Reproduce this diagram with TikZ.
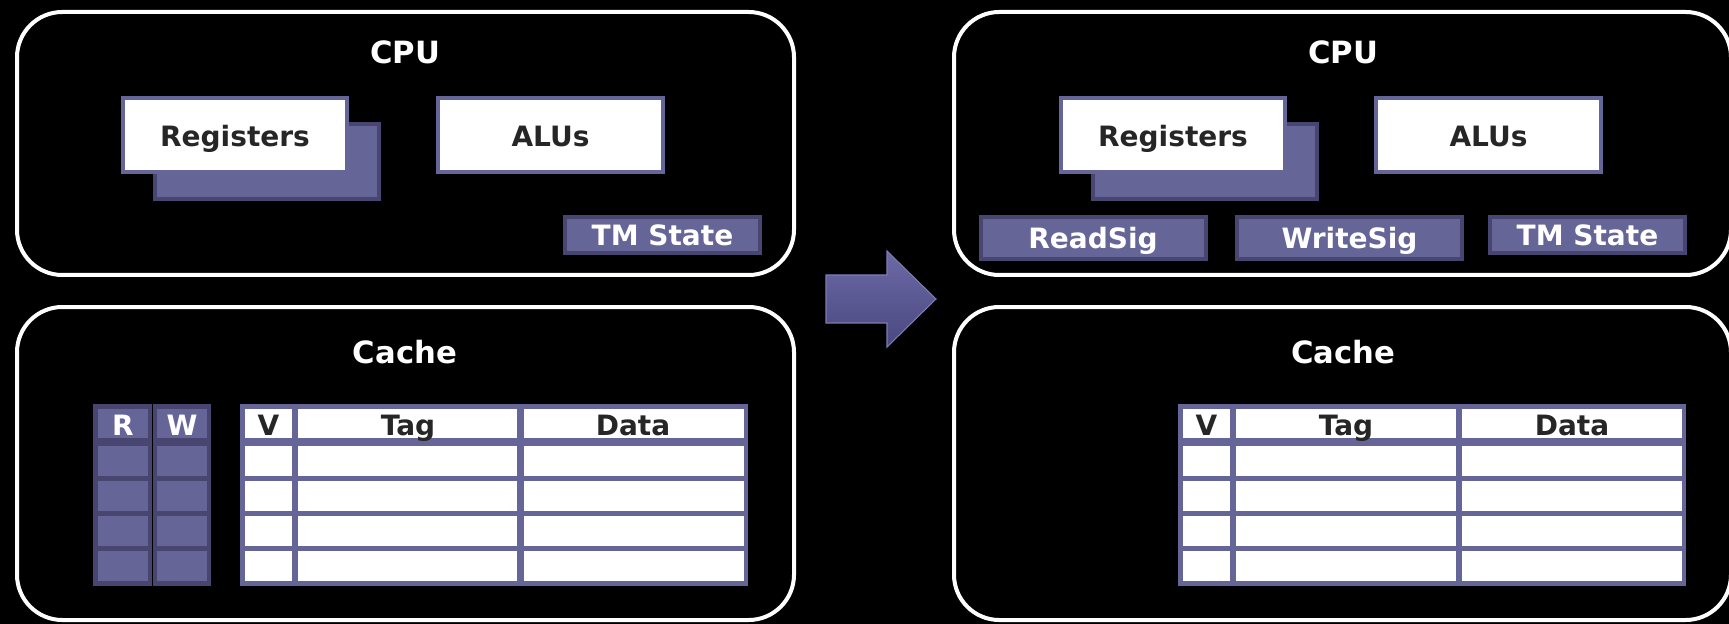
\documentclass[tikz,border=0pt]{standalone}
\usepackage{fontspec}
\setmainfont{DejaVu Sans}
\definecolor{boxpurple}{RGB}{102,101,152}
\definecolor{darkpurple}{RGB}{72,70,112}
\definecolor{arrowtop}{RGB}{108,105,165}
\definecolor{arrowbot}{RGB}{74,72,128}
\definecolor{arrowedge}{RGB}{125,122,180}
\definecolor{darktext}{RGB}{38,38,38}
\tikzset{
  px/.style 2 args={minimum width=#1*0.75pt, minimum height=#2*0.75pt, inner sep=0pt},
  outerbox/.style={draw=white, line width=3pt, rounded corners=34pt, rectangle},
  whitebox/.style={draw=boxpurple, fill=white, line width=3pt, rectangle},
  purplebox/.style={draw=darkpurple, fill=boxpurple, line width=3pt, rectangle},
  ttl/.style={font=\bfseries\fontsize{23}{27}\selectfont, text=white, anchor=base, inner sep=0pt},
  dlbl/.style={font=\bfseries\fontsize{21}{25}\selectfont, text=darktext, anchor=base, inner sep=0pt},
  wlbl/.style={font=\bfseries\fontsize{21}{25}\selectfont, text=white, anchor=base, inner sep=0pt},
}
\begin{document}
\begin{tikzpicture}[x=0.75pt,y=-0.75pt]
\useasboundingbox (0,0) rectangle (1729,624);
\fill[black] (0,0) rectangle (1729,624);
\clip (0,0) rectangle (1729,624);

% ---------- outer boxes ----------
\node[outerbox, px={777}{263}] (cpuL) at (405.5,143.5) {};
\node[outerbox, px={777}{313}] (cacheL) at (405.5,463.5) {};
\node[outerbox, px={777}{263}] (cpuR) at (1342.5,143.5) {};
\node[outerbox, px={777}{313}] (cacheR) at (1342.5,463.5) {};

\node[ttl] (cpuLt) at (405,63.5) {CPU};
\node[ttl] (cacheLt) at (405,363.5) {Cache};
\node[ttl] (cpuRt) at (1343,63.5) {CPU};
\node[ttl] (cacheRt) at (1343,363.5) {Cache};

% ---------- left CPU ----------
\node[purplebox, px={224}{75}] (regLb) at (267,161.5) {};
\node[whitebox, px={224}{74}] (regL) at (235,135) {};
\node[dlbl] (regLt) at (235,146.5) {Registers};
\node[whitebox, px={225}{74}] (aluL) at (550.5,135) {};
\node[dlbl] (aluLt) at (550.5,146.5) {ALUs};
\node[purplebox, px={195}{36}] (tmL) at (662.5,235) {};
\node[wlbl] (tmLt) at (662.5,246) {TM State};

% ---------- right CPU ----------
\node[purplebox, px={224}{75}] (regRb) at (1205,161.5) {};
\node[whitebox, px={224}{74}] (regR) at (1173,135) {};
\node[dlbl] (regRt) at (1173,146.5) {Registers};
\node[whitebox, px={225}{74}] (aluR) at (1488.5,135) {};
\node[dlbl] (aluRt) at (1488.5,146.5) {ALUs};
\node[purplebox, px={225}{42}] (rsig) at (1093,238) {};
\node[wlbl] (rsigt) at (1093,248) {ReadSig};
\node[purplebox, px={225}{42}] (wsig) at (1349.5,238) {};
\node[wlbl] (wsigt) at (1349.5,248) {WriteSig};
\node[purplebox, px={195}{36}] (tmR) at (1587.5,235) {};
\node[wlbl] (tmRt) at (1587.5,246) {TM State};

% ---------- R/W bits (left cache) ----------
\fill[darkpurple] (93,404) rectangle (151.5,586);
\fill[darkpurple] (153,404) rectangle (211,586);
\foreach \ya/\yb in {409/438,446/476,481/511,516/546,551/581}{
  \fill[boxpurple] (98,\ya) rectangle (148,\yb);
  \fill[boxpurple] (157,\ya) rectangle (207,\yb);
}
\node[wlbl] (rbit) at (123,435) {R};
\node[wlbl] (wbit) at (182,435) {W};

% ---------- tables ----------
\foreach \ox/\va/\vb/\ta/\tb/\da/\db in {240/245/292/298/517/524/744, 1178/1183/1230/1236/1456/1462/1682}{
  \fill[boxpurple] (\ox,404) rectangle (\ox+508,586);
  \foreach \ya/\yb in {409/438,446/476,481/511,516/546,551/581}{
    \fill[white] (\va,\ya) rectangle (\vb,\yb);
    \fill[white] (\ta,\ya) rectangle (\tb,\yb);
    \fill[white] (\da,\ya) rectangle (\db,\yb);
  }
}
\node[dlbl] (vL) at (268.5,435) {V};
\node[dlbl] (tagL) at (408,435) {Tag};
\node[dlbl] (dataL) at (633,435) {Data};
\node[dlbl] (vR) at (1206.5,435) {V};
\node[dlbl] (tagR) at (1346,435) {Tag};
\node[dlbl] (dataR) at (1572,435) {Data};

% ---------- transition arrow ----------
\shade[top color=arrowtop, bottom color=arrowbot, draw=arrowedge, line width=0.8pt]
  (826,275) -- (887,275) -- (887,251) -- (936,299) -- (887,347) -- (887,323) -- (826,323) -- cycle;
\end{tikzpicture}
\end{document}
